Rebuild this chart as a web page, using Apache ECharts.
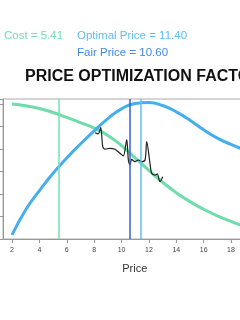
<!DOCTYPE html>
<html><head><meta charset="utf-8">
<script src="https://cdn.jsdelivr.net/npm/echarts@6/dist/echarts.min.js"></script>
<style>html,body{margin:0;padding:0;overflow:hidden;background:#fff;width:240px;height:320px}#c{width:280px;height:320px}</style>
</head><body><div id="c"></div>
<script>
const curvePrices = [2,3,4,5,6,7,8,9,10,11,12,13,14,15,16,17,18,19,20];
const profitValues = [0.18,1.3,2.15,2.92,3.6,4.22,4.8,5.35,5.78,6.02,6.06,5.93,5.65,5.28,4.85,4.48,4.2,3.95,3.72];
const demandValues = [6.0,5.92,5.8,5.62,5.4,5.17,4.93,4.6,4.15,3.6,3.05,2.52,2.06,1.66,1.32,1.03,0.78,0.55,0.37];
const observedPrices = [8.06,8.30,8.48,8.63,8.79,9.16,9.52,9.89,10.13,10.38,10.50,10.62,10.74,10.98,11.23,11.47,11.72,11.84,12.08,12.20,12.45,12.61,12.81,13.01];
const observedValues = [4.72,4.67,4.95,4.10,3.99,4.03,3.99,3.81,3.69,4.42,3.51,3.29,3.54,3.44,3.51,3.44,3.51,4.33,3.36,2.92,2.84,2.89,2.55,2.77];
const markerPrices = [8.48,10.38,10.62,11.84,12.81];
const markerValues = [4.97,4.42,3.29,4.33,2.55];
const costPrice = 5.41, fairPrice = 10.60, optimalPrice = 11.40;
const xTickValues = [2,4,6,8,10,12,14,16,18,20];

const zip = (a,b) => a.map((v,i)=>[v,b[i]]);
const chart = echarts.init(document.getElementById('c'), null, {renderer:'canvas'});
chart.setOption({
  animation:false,
  backgroundColor:'#fff',
  grid:{left:3,right:13.4,top:99,bottom:81,show:true,borderColor:'#aaa',borderWidth:1},
  xAxis:{type:'value',min:1.34,max:20.6,
    name:'Price',nameLocation:'middle',nameGap:24,
    nameTextStyle:{color:'#333',fontSize:11,fontFamily:'Liberation Sans'},
    axisLine:{lineStyle:{color:'#999'}},
    axisTick:{show:true,length:4,customValues:xTickValues,lineStyle:{color:'#999'}},
    axisLabel:{customValues:xTickValues,fontSize:7,color:'#444',margin:8,fontFamily:'Liberation Sans'},
    splitLine:{show:false}},
  yAxis:{type:'value',min:0,max:6.22,interval:1,
    axisLine:{show:true,lineStyle:{color:'#999'}},
    axisTick:{show:true,length:3,lineStyle:{color:'#999'}},
    axisLabel:{show:false},splitLine:{show:false}},
  graphic:[
    {type:'text',left:4,top:30,style:{text:'Cost = 5.41',fill:'#74dcae',font:'11.5px "Liberation Sans"'}},
    {type:'text',left:77,top:30,style:{text:'Optimal Price = 11.40',fill:'#62bcf0',font:'11.5px "Liberation Sans"'}},
    {type:'text',left:77,top:47,style:{text:'Fair Price = 10.60',fill:'#4489e6',font:'11.5px "Liberation Sans"'}},
    {type:'text',left:25,top:69,style:{text:'PRICE OPTIMIZATION FACTOR',fill:'#111',font:'bold 16px "Liberation Sans"'}}
  ],
  series:[
    {type:'line',data:zip(curvePrices,demandValues),smooth:true,showSymbol:false,
      lineStyle:{color:'#6fdcaa',width:3},
      markLine:{silent:true,symbol:'none',label:{show:false},
        data:[{xAxis:costPrice,lineStyle:{color:'#74e0b0',width:1.5,type:'solid'}},
              {xAxis:fairPrice,lineStyle:{color:'#2f62dc',width:1.5,type:'solid'}},
              {xAxis:optimalPrice,lineStyle:{color:'#5cc0f5',width:1.5,type:'solid'}}]}},
    {type:'line',data:zip(curvePrices,profitValues),smooth:true,showSymbol:false,
      lineStyle:{color:'#46aeec',width:3}},
    {type:'line',data:zip(observedPrices,observedValues),showSymbol:false,smooth:0.3,
      lineStyle:{color:'#222',width:1.2}},
    {type:'scatter',data:zip(markerPrices,markerValues),symbol:'emptyCircle',symbolSize:4.5,
      itemStyle:{color:'#fff',borderColor:'#aaa',borderWidth:1}}
  ]
});
</script></body></html>
